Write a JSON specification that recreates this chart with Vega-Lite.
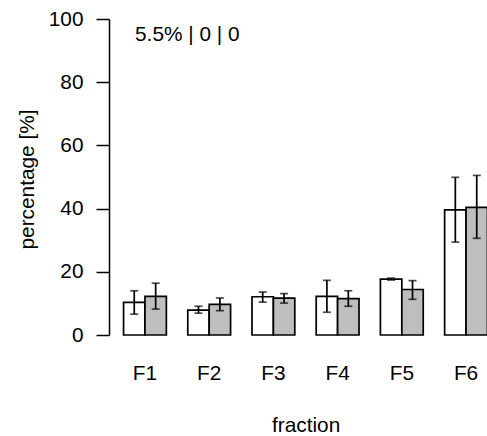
{
  "$schema": "https://vega.github.io/schema/vega-lite/v6.json",
  "width": 378,
  "height": 316,
  "autosize": {"type": "none"},
  "padding": {"left": 109, "top": 19, "right": 0, "bottom": 101},
  "background": "white",
  "config": {"view": {"stroke": null}, "font": "Liberation Sans"},
  "data": {
    "values": [
      {"fraction": "F1", "group": "a", "value": 10.3, "lo": 6.6, "hi": 14.0},
      {"fraction": "F1", "group": "b", "value": 12.2, "lo": 8.2, "hi": 16.4},
      {"fraction": "F2", "group": "a", "value": 7.9, "lo": 6.9, "hi": 9.1},
      {"fraction": "F2", "group": "b", "value": 9.7, "lo": 7.7, "hi": 11.7},
      {"fraction": "F3", "group": "a", "value": 12.1, "lo": 10.4, "hi": 13.6},
      {"fraction": "F3", "group": "b", "value": 11.7, "lo": 10.1, "hi": 13.1},
      {"fraction": "F4", "group": "a", "value": 12.2, "lo": 7.2, "hi": 17.3},
      {"fraction": "F4", "group": "b", "value": 11.5, "lo": 9.1, "hi": 14.0},
      {"fraction": "F5", "group": "a", "value": 17.7, "lo": 17.4, "hi": 18.0},
      {"fraction": "F5", "group": "b", "value": 14.4, "lo": 11.3, "hi": 17.2},
      {"fraction": "F6", "group": "a", "value": 39.6, "lo": 29.4, "hi": 49.9},
      {"fraction": "F6", "group": "b", "value": 40.4, "lo": 30.6, "hi": 50.5}
    ]
  },
  "encoding": {
    "x": {
      "field": "fraction",
      "type": "nominal",
      "scale": {"range": [0, 393], "paddingInner": 0.3333, "paddingOuter": 0.2267},
      "axis": {
        "title": "fraction",
        "domain": false,
        "ticks": false,
        "tickSize": 0,
        "labelAngle": 0,
        "labelFontSize": 20.8,
        "labelColor": "black",
        "labelPadding": 44,
        "labelBaseline": "alphabetic",
        "titleFontSize": 20.8,
        "titleFontWeight": "normal",
        "titleColor": "black",
        "titleAlign": "center",
        "titleBaseline": "alphabetic",
        "titleX": 196.6,
        "titleY": 96
      }
    },
    "xOffset": {"field": "group", "type": "nominal", "scale": {"paddingInner": 0, "paddingOuter": 0}}
  },
  "layer": [
    {
      "mark": {"type": "bar", "stroke": "black", "strokeWidth": 1.7},
      "encoding": {
        "y": {
          "field": "value",
          "type": "quantitative",
          "scale": {"domain": [0, 100], "nice": false},
          "axis": {
            "values": [0, 20, 40, 60, 80, 100],
            "grid": false,
            "domainColor": "black",
            "domainWidth": 1.5,
            "tickColor": "black",
            "tickWidth": 1.5,
            "tickSize": 13,
            "labelFontSize": 20.8,
            "labelColor": "black",
            "labelPadding": 13,
            "labelFlush": false,
            "labelOverlap": false,
            "title": "percentage [%]",
            "titleFontSize": 20.8,
            "titleFontWeight": "normal",
            "titleColor": "black",
            "titleAngle": 270,
            "titleAlign": "center",
            "titleBaseline": "alphabetic",
            "titleX": -76,
            "titleY": 160
          }
        },
        "fill": {
          "field": "group",
          "type": "nominal",
          "scale": {"domain": ["a", "b"], "range": ["white", "#BEBEBE"]},
          "legend": null
        }
      }
    },
    {
      "mark": {"type": "rule", "color": "black", "strokeWidth": 1.7},
      "encoding": {
        "y": {"field": "lo", "type": "quantitative"},
        "y2": {"field": "hi"}
      }
    },
    {
      "mark": {"type": "tick", "color": "black", "thickness": 1.7, "size": 8},
      "encoding": {"y": {"field": "lo", "type": "quantitative"}}
    },
    {
      "mark": {"type": "tick", "color": "black", "thickness": 1.7, "size": 8},
      "encoding": {"y": {"field": "hi", "type": "quantitative"}}
    },
    {
      "data": {"values": [{"note": "5.5% | 0 | 0"}]},
      "mark": {"type": "text", "align": "left", "baseline": "middle", "fontSize": 20.8, "fontWeight": "normal", "fill": "black", "stroke": null, "strokeWidth": 0, "dx": 11.5},
      "encoding": {
        "x": {"datum": "F1"},
        "xOffset": {"value": 0},
        "y": {"datum": 95, "type": "quantitative"},
        "text": {"field": "note", "type": "nominal"}
      }
    }
  ]
}
